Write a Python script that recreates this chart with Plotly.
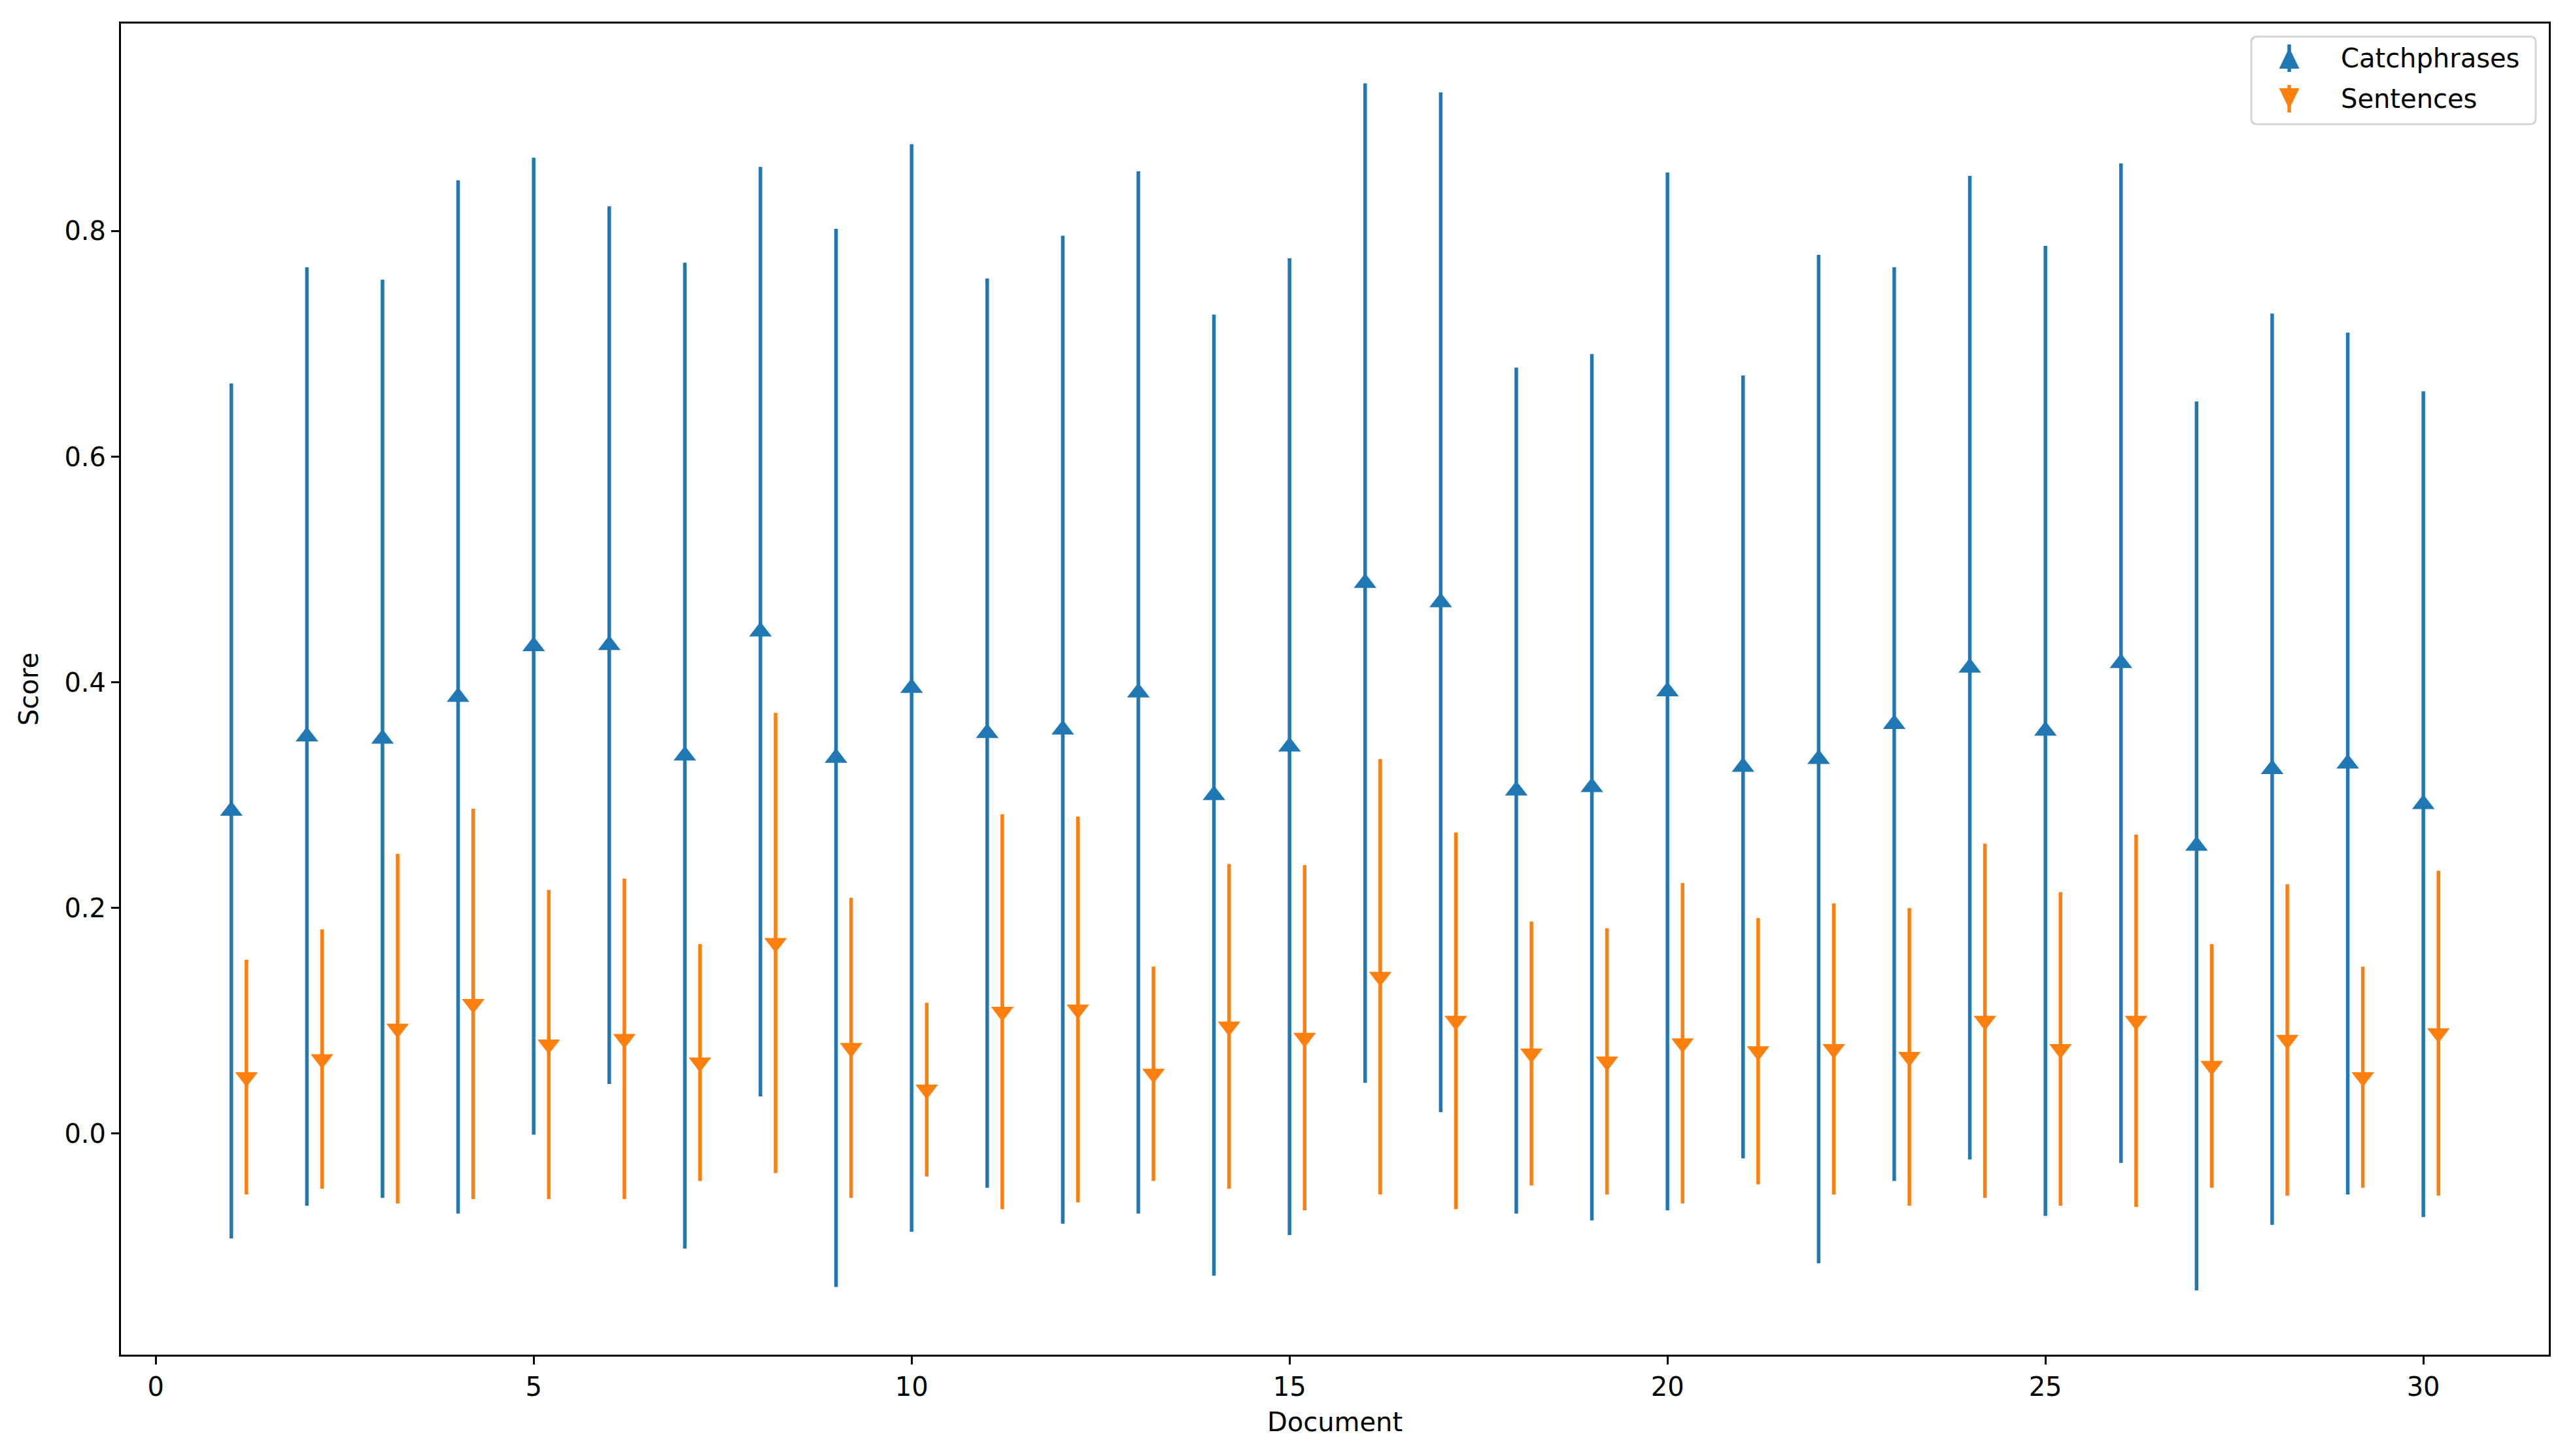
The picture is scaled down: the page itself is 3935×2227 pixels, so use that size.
import plotly.graph_objects as go

documents = list(range(1, 31))
catch_mean = [0.286, 0.352, 0.350, 0.387, 0.432, 0.433, 0.335, 0.445, 0.333, 0.395,
              0.355, 0.358, 0.391, 0.300, 0.343, 0.488, 0.471, 0.304, 0.307, 0.392,
              0.325, 0.332, 0.363, 0.413, 0.357, 0.417, 0.255, 0.323, 0.328, 0.292]
catch_std = [0.379, 0.416, 0.407, 0.458, 0.433, 0.389, 0.437, 0.412, 0.469, 0.482,
             0.403, 0.438, 0.462, 0.426, 0.433, 0.443, 0.452, 0.375, 0.384, 0.460,
             0.347, 0.447, 0.405, 0.436, 0.430, 0.443, 0.394, 0.404, 0.382, 0.366]
sent_mean = [0.050, 0.066, 0.093, 0.115, 0.079, 0.084, 0.063, 0.169, 0.076, 0.039,
             0.108, 0.110, 0.053, 0.095, 0.085, 0.139, 0.100, 0.071, 0.064, 0.080,
             0.073, 0.075, 0.068, 0.100, 0.075, 0.100, 0.060, 0.083, 0.050, 0.089]
sent_std = [0.104, 0.115, 0.155, 0.173, 0.137, 0.142, 0.105, 0.204, 0.133, 0.077,
            0.175, 0.171, 0.095, 0.144, 0.153, 0.193, 0.167, 0.117, 0.118, 0.142,
            0.118, 0.129, 0.132, 0.157, 0.139, 0.165, 0.108, 0.138, 0.098, 0.144]
sent_offset = 0.2
x_ticks = [0, 5, 10, 15, 20, 25, 30]
y_ticks = [0.0, 0.2, 0.4, 0.6, 0.8]
series_names = ["Catchphrases", "Sentences"]

BLUE = "#1f77b4"
ORANGE = "#ff7f0e"
FONT = "DejaVu Sans"
MSIZE = 30
LW = 5.5

fig = go.Figure()
fig.add_trace(go.Scatter(
    x=documents, y=catch_mean, mode="markers", name=series_names[0],
    marker=dict(symbol="triangle-up", size=MSIZE, color=BLUE),
    error_y=dict(type="data", array=catch_std, symmetric=True, color=BLUE, thickness=LW, width=0),
    showlegend=False,
))
fig.add_trace(go.Scatter(
    x=[d + sent_offset for d in documents], y=sent_mean, mode="markers", name=series_names[1],
    marker=dict(symbol="triangle-down", size=MSIZE, color=ORANGE),
    error_y=dict(type="data", array=sent_std, symmetric=True, color=ORANGE, thickness=LW, width=0),
    showlegend=False,
))

axis_common = dict(
    showgrid=False, zeroline=False, showline=True, linecolor="black", linewidth=3,
    mirror=True, ticks="outside", ticklen=12, tickwidth=3, tickcolor="black",
    tickfont=dict(family=FONT, size=40, color="black"),
)
fig.update_xaxes(range=[-0.46, 31.66], tickvals=x_ticks, ticktext=[str(v) for v in x_ticks],
                 title=dict(text="Document", font=dict(family=FONT, size=40, color="black"), standoff=18),
                 **axis_common)
fig.update_yaxes(range=[-0.196, 0.984], tickvals=y_ticks, ticktext=[f"{v:.1f}" for v in y_ticks],
                 title=dict(text="Score", font=dict(family=FONT, size=40, color="black"), standoff=28),
                 **axis_common)

# ---- legend drawn in pixel units relative to the top-right corner of the plot ----
def rounded_box(x0, x1, y0, y1, r):
    # y positive upwards (pixel sizemode)
    return (f"M{x0 + r},{y0} L{x1 - r},{y0} Q{x1},{y0} {x1},{y0 - r} "
            f"L{x1},{y1 + r} Q{x1},{y1} {x1 - r},{y1} L{x0 + r},{y1} "
            f"Q{x0},{y1} {x0},{y1 + r} L{x0},{y0 - r} Q{x0},{y0} {x0 + r},{y0} Z")

def pix_shape(path, fill, line_color=None, line_width=0):
    return dict(type="path", path=path, xref="paper", yref="paper",
                xsizemode="pixel", ysizemode="pixel", xanchor=1, yanchor=1,
                fillcolor=fill, line=dict(color=line_color or fill, width=line_width),
                layer="above")

shapes = [pix_shape(rounded_box(-455, -20, -20, -154, 9), "rgba(255,255,255,0.8)", "#d4d4d4", 3)]
cx = -397
rows = [(-53, BLUE, "up"), (-115, ORANGE, "down")]
annotations = []
for (cy, col, d), name in zip(rows, series_names):
    hw, hh = 15.5, 16
    if d == "up":
        tri = f"M{cx - hw},{cy - hh} L{cx + hw},{cy - hh} L{cx},{cy + hh} Z"
    else:
        tri = f"M{cx - hw},{cy + hh} L{cx + hw},{cy + hh} L{cx},{cy - hh} Z"
    bar = f"M{cx - 2.75},{cy - 21} L{cx + 2.75},{cy - 21} L{cx + 2.75},{cy + 21} L{cx - 2.75},{cy + 21} Z"
    shapes.append(pix_shape(bar, col))
    shapes.append(pix_shape(tri, col))
    annotations.append(dict(text=name, xref="paper", yref="paper", x=1, y=1,
                            xshift=-320, yshift=cy, xanchor="left", yanchor="middle",
                            showarrow=False, font=dict(family=FONT, size=40, color="black")))

fig.update_layout(
    width=3935, height=2227,
    margin=dict(l=177, r=45, t=28, b=163),
    paper_bgcolor="white", plot_bgcolor="white",
    font=dict(family=FONT, size=40, color="black"),
    showlegend=False,
    shapes=shapes,
    annotations=annotations,
)

fig.write_html("out.html")
